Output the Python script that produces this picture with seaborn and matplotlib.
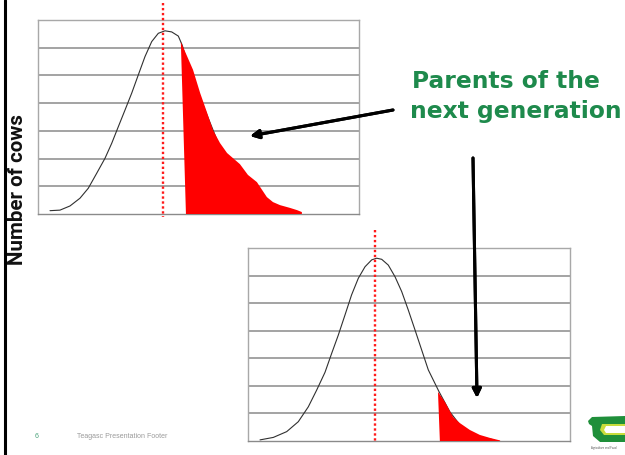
import matplotlib
matplotlib.use("Agg")
import matplotlib.pyplot as plt
import seaborn as sns
from matplotlib.patches import Polygon
from matplotlib.lines import Line2D

# ---- data (x: 0-100 across each panel, y: 0-7 grid rows) ----
parent_x = [3.74, 6.85, 9.97, 13.08, 15.67, 18.29, 20.87, 22.96, 25.02, 27.10,
            29.19, 31.25, 33.33, 35.42, 37.48, 39.56, 41.65, 43.71, 44.90,
            45.79, 47.88, 49.94, 52.02, 54.11, 56.17, 58.26, 60.84, 63.46,
            66.04, 69.16, 72.27, 75.39]
parent_y = [0.12, 0.14, 0.29, 0.57, 0.93, 1.47, 2.01, 2.55, 3.15, 3.75,
            4.36, 5.02, 5.68, 6.22, 6.52, 6.61, 6.57, 6.42, 6.10,
            5.75, 5.02, 4.36, 3.75, 3.15, 2.55, 2.01, 1.47, 0.93,
            0.57, 0.29, 0.14, 0.12]
selected_top_x = [44.5, 48.3, 50.5, 52.6, 54.5, 56.7, 58.9, 61.4, 62.9, 65.4,
                  68.2, 69.8, 71.3, 73.2, 75.4, 78.5, 80.7, 82.2, 82.2, 46.1]
selected_top_y = [6.21, 5.20, 4.37, 3.68, 3.03, 2.56, 2.20, 1.95, 1.80, 1.41,
                  1.15, 0.87, 0.61, 0.43, 0.32, 0.22, 0.14, 0.07, -0.04, -0.04]
mean_top = 38.9

offspring_x = [3.73, 7.86, 12.02, 15.62, 18.73, 21.34, 23.91, 25.99, 28.04,
               30.12, 32.17, 34.25, 36.34, 38.42, 39.97, 41.52, 43.57, 45.65,
               47.73, 49.78, 51.86, 53.94, 55.99, 59.32, 62.73, 65.84, 68.94,
               72.05, 76.40]
offspring_y = [0.04, 0.13, 0.34, 0.70, 1.24, 1.85, 2.49, 3.18, 3.84,
               4.57, 5.30, 5.90, 6.32, 6.57, 6.63, 6.59, 6.38, 5.96,
               5.42, 4.75, 4.03, 3.30, 2.58, 1.79, 1.05, 0.58, 0.29,
               0.15, 0.04]
selected_bot_x = [59.0, 61.2, 63.7, 65.8, 68.9, 72.0, 75.2, 78.3, 78.3, 59.6]
selected_bot_y = [1.78, 1.41, 0.87, 0.65, 0.40, 0.22, 0.11, 0.02, -0.04, -0.04]
mean_bot = 39.4

ylabel = "Number of cows"
callout = ["Parents of the", "next generation"]
footer_num = "6"
footer_text = "Teagasc Presentation Footer"

sns.set_theme(style="white")
plt.rcParams["font.family"] = ["Liberation Sans", "DejaVu Sans"]

W, H = 625, 455
fig = plt.figure(figsize=(W / 100, H / 100), dpi=100)
fig.patch.set_facecolor("white")


def panel(rect, cx, cy, fx, fy, mean, line_top, line_bot):
    ax = fig.add_axes(rect)
    ax.set_xlim(0, 100)
    ax.set_ylim(0, 7)
    ax.set_yticks(range(1, 7))
    ax.set_xticks([])
    ax.tick_params(left=False, labelleft=False)
    ax.yaxis.grid(True, color="#8a8a8a", lw=1.1)
    ax.xaxis.grid(False)
    for s in ax.spines.values():
        s.set_color("#a8a8a8")
        s.set_linewidth(1.0)
    ax.spines["bottom"].set_color("#8a8a8a")
    sns.lineplot(x=cx, y=cy, ax=ax, color="#303030", lw=0.8, sort=True)
    ax.fill(fx, fy, color="#ff0000", lw=0, zorder=3)
    ax.plot([mean, mean], [line_top, line_bot], color="#ff1a1a", lw=1.7,
            linestyle=(0, (1, 1.1)), clip_on=False, zorder=4)
    ax.set_xlabel("")
    ax.set_ylabel("")
    return ax


ax1 = panel([38 / W, (H - 214) / H, 321 / W, 194 / H],
            parent_x, parent_y, selected_top_x, selected_top_y,
            mean_top, 7.61, -0.11)
ax2 = panel([248 / W, (H - 441) / H, 322 / W, 193 / H],
            offspring_x, offspring_y, selected_bot_x, selected_bot_y,
            mean_bot, 7.65, -0.07)

# slide border on the left
fig.add_artist(Line2D([5 / W, 5 / W], [0, 1], color="black", lw=2.2))

# y label
fig.text(18 / W, (H - 190) / H, ylabel, rotation=90, ha="center", va="center",
         fontsize=14.8, fontweight="bold", color="#111111",
         family=["Roboto", "Liberation Sans", "DejaVu Sans"])

# call-out text
green = "#1e8a4c"
fig.text(412 / W, (H - 88) / H, callout[0], ha="left", va="baseline",
         fontsize=16.8, fontweight="bold", color=green, family="DejaVu Sans")
fig.text(410 / W, (H - 118) / H, callout[1], ha="left", va="baseline",
         fontsize=16.8, fontweight="bold", color=green, family="DejaVu Sans")

# arrows
arrow = dict(arrowstyle="-|>", lw=2.2, color="black", mutation_scale=13,
             shrinkA=0, shrinkB=0)
fig.add_artist(plt.annotate("", xy=(250, H - 136), xytext=(393, H - 110),
                            xycoords="figure pixels", textcoords="figure pixels",
                            arrowprops=arrow))
fig.add_artist(plt.annotate("", xy=(477, H - 398), xytext=(473, H - 158),
                            xycoords="figure pixels", textcoords="figure pixels",
                            arrowprops=arrow))

# footer
fig.text(37 / W, (H - 437) / H, footer_num, ha="center", va="center",
         fontsize=5, color="#4aa37a")
fig.text(77 / W, (H - 437) / H, footer_text, ha="left", va="center",
         fontsize=5, color="#9a9a9a")

# logo mark
logo_outer = [(588, 421), (592, 417), (625, 416), (625, 424), (606, 424),
              (602, 430), (606, 435), (625, 435), (625, 442), (600, 442),
              (593, 436), (592, 426), (589, 424)]
fig.add_artist(Polygon([(x / W, (H - y) / H) for x, y in logo_outer],
                       closed=True, transform=fig.transFigure,
                       facecolor="#1f8f3a", edgecolor="none"))
logo_inner = [(602, 424), (625, 424), (625, 426), (606, 426), (604, 430),
              (606, 433), (625, 433), (625, 435), (604, 435), (600, 430)]
fig.add_artist(Polygon([(x / W, (H - y) / H) for x, y in logo_inner],
                       closed=True, transform=fig.transFigure,
                       facecolor="#c8dc3c", edgecolor="none"))
fig.text(604 / W, (H - 448) / H, "Agriculture and Food", ha="center",
         va="center", fontsize=2, color="#555555")

fig.savefig("out.png", dpi=100, facecolor="white")
